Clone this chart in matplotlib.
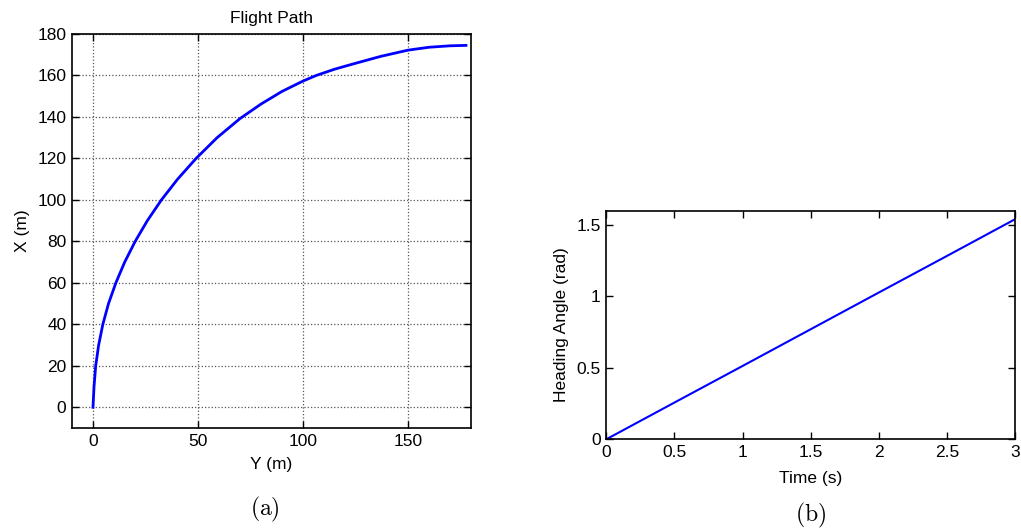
import matplotlib
matplotlib.use("Agg")
import matplotlib.pyplot as plt
from matplotlib.ticker import FuncFormatter

plt.rcParams['font.family'] = ['Liberation Sans', 'DejaVu Sans']
plt.rcParams['mathtext.fontset'] = 'cm'

# Flight path data (Y, X in metres)
path_y = [0, 0.5, 1.3, 2.7, 4.7, 7.4, 10.9, 15.1, 20.1, 25.9, 32.6, 40.3, 49.1, 59.1,
          70, 80, 90, 100, 106.3, 115, 123.7, 137, 150, 160, 170, 177.6]
path_x = [0, 10, 20, 30, 40, 50, 60, 70, 80, 90, 100, 110, 120, 130,
          139.2, 146.2, 152.3, 157.3, 160, 163, 165.5, 169.2, 172.2, 173.6, 174.3, 174.5]

# Heading angle data
time_s = [0, 0.5, 1.0, 1.5, 2.0, 2.5, 3.0]
heading = [0, 0.257, 0.513, 0.77, 1.027, 1.283, 1.54]

fig = plt.figure(figsize=(10.21, 5.31), dpi=100)

def fmt(v, pos):
    return '%g' % v

ax1 = fig.add_axes([0.0705, 0.194, 0.3908, 0.742])
ax1.plot(path_y, path_x, color='#0000ff', lw=2.0, solid_joinstyle='round')
ax1.set_xlim(-10, 180)
ax1.set_ylim(-10, 180)
ax1.set_xticks([0, 50, 100, 150])
ax1.set_yticks(range(0, 181, 20))
ax1.grid(True, linestyle=':', color='#555555', lw=0.9)
ax1.set_title('Flight Path', fontsize=12.5, pad=8)
ax1.set_xlabel('Y (m)', fontsize=12.5, labelpad=6)
ax1.set_ylabel('X (m)', fontsize=12.5, labelpad=5)

ax2 = fig.add_axes([0.5938, 0.1727, 0.4003, 0.4305])
ax2.plot(time_s, heading, color='#0000ff', lw=1.5)
ax2.set_xlim(0, 3)
ax2.set_ylim(0, 1.6)
ax2.set_xticks([0, 0.5, 1, 1.5, 2, 2.5, 3])
ax2.set_yticks([0, 0.5, 1, 1.5])
ax2.xaxis.set_major_formatter(FuncFormatter(fmt))
ax2.yaxis.set_major_formatter(FuncFormatter(fmt))
ax2.set_xlabel('Time (s)', fontsize=12.5, labelpad=8)
ax2.set_ylabel('Heading Angle (rad)', fontsize=12.5, labelpad=5)

for ax in (ax1, ax2):
    ax.tick_params(direction='in', top=True, right=True, labelsize=12.5, length=5, width=1, pad=4)
    for sp in ax.spines.values():
        sp.set_linewidth(1.2)

fig.text(0.259, 0.04, r'$\mathrm{(a)}$', fontsize=17, ha='center', va='center')
fig.text(0.794, 0.03, r'$\mathrm{(b)}$', fontsize=17, ha='center', va='center')

fig.savefig('out.png', dpi=100)
